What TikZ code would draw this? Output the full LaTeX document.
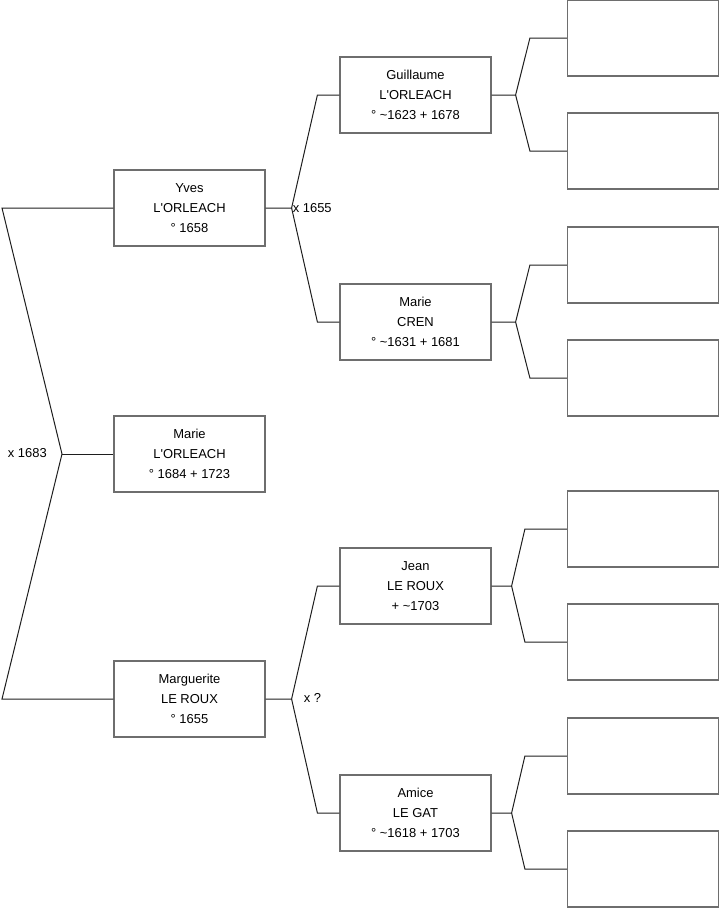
\documentclass[tikz,border=0pt]{standalone}
\usepackage{fontspec}
\setmainfont{Liberation Sans}
\usepackage{tikz}
\usetikzlibrary{calc}
\definecolor{lnblack}{HTML}{1E1E1E}
\definecolor{bxgray}{HTML}{6E6E6E}

\begin{document}
\begin{tikzpicture}[x=1bp, y=-1bp,
  person/.style={draw=bxgray, line width=1.2bp, fill=white, minimum width=151bp, minimum height=76bp, inner sep=0pt, align=center, font=\fontsize{13}{20}\selectfont},
  link/.style={draw=lnblack, line width=1bp},
  union/.style={font=\fontsize{13}{15}\selectfont, inner sep=1bp}]
  \useasboundingbox (0,0) rectangle (719,908);
  % generation 1 and 2
  \node[person] (yves) at (189.5,208) {Yves\\L\textquotesingle ORLEACH\\° 1658};
  \node[person] (marie) at (189.5,454) {Marie\\L\textquotesingle ORLEACH\\° 1684 + 1723};
  \node[person] (marguerite) at (189.5,699) {Marguerite\\LE ROUX\\° 1655};
  % generation 3
  \node[person] (guillaume) at (415.5,95) {Guillaume\\L\textquotesingle ORLEACH\\° \textasciitilde1623 + 1678};
  \node[person] (cren) at (415.5,322) {Marie\\CREN\\° \textasciitilde1631 + 1681};
  \node[person] (jean) at (415.5,586) {Jean\\LE ROUX\\+ \textasciitilde1703};
  \node[person] (amice) at (415.5,813) {Amice\\LE GAT\\° \textasciitilde1618 + 1703};
  % generation 4 (empty)
  \node[person] (g1) at (643,38) {};
  \node[person] (g2) at (643,151) {};
  \node[person] (g3) at (643,265) {};
  \node[person] (g4) at (643,378) {};
  \node[person] (g5) at (643,529) {};
  \node[person] (g6) at (643,642) {};
  \node[person] (g7) at (643,756) {};
  \node[person] (g8) at (643,869) {};

  % parents of Marie
  \coordinate (ftop) at (2,208);
  \coordinate (fbottom) at (2,699);
  \coordinate (fmarie) at (62,454);
  \draw[link] (yves.west) -- (ftop) -- (fmarie) -- (fbottom) -- (marguerite.west);
  \draw[link] (fmarie) -- (marie.west);
  \node[union, anchor=east] (u1683) at ($(fmarie)+(-14,-1)$) {x 1683};

  % parents of Yves
  \draw[link] (yves.east) -- ++(26,0) coordinate (fyves) -- ($(guillaume.west)+(-22,0)$) -- (guillaume.west);
  \draw[link] (fyves) -- ($(cren.west)+(-22,0)$) -- (cren.west);
  \node[union, anchor=west] (u1655) at (fyves) {x 1655};

  % parents of Marguerite
  \draw[link] (marguerite.east) -- ++(26,0) coordinate (fmarg) -- ($(jean.west)+(-22,0)$) -- (jean.west);
  \draw[link] (fmarg) -- ($(amice.west)+(-22,0)$) -- (amice.west);
  \node[union, anchor=west] (uq) at ($(fmarg)+(11,-1)$) {x ?};

  % grandparents
  \draw[link] (guillaume.east) -- ++(24,0) coordinate (fguil) -- ($(g1.west)+(-37,0)$) -- (g1.west);
  \draw[link] (fguil) -- ($(g2.west)+(-37,0)$) -- (g2.west);
  \draw[link] (cren.east) -- ++(24,0) coordinate (fcren) -- ($(g3.west)+(-37,0)$) -- (g3.west);
  \draw[link] (fcren) -- ($(g4.west)+(-37,0)$) -- (g4.west);
  \draw[link] (jean.east) -- ++(20,0) coordinate (fjean) -- ($(g5.west)+(-42,0)$) -- (g5.west);
  \draw[link] (fjean) -- ($(g6.west)+(-42,0)$) -- (g6.west);
  \draw[link] (amice.east) -- ++(20,0) coordinate (famice) -- ($(g7.west)+(-42,0)$) -- (g7.west);
  \draw[link] (famice) -- ($(g8.west)+(-42,0)$) -- (g8.west);
\end{tikzpicture}
\end{document}
